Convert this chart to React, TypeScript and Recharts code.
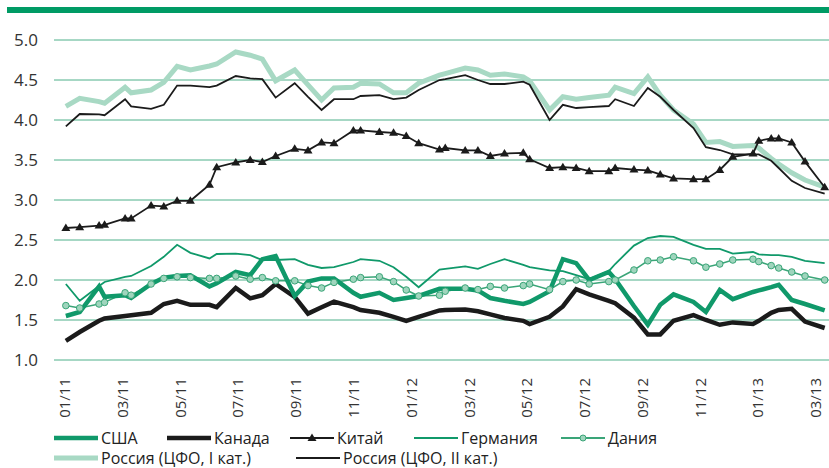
import React from "react";
import { CartesianGrid, Line, LineChart, XAxis, YAxis } from "recharts";

// observation dates, in months since 01/2011
const months = [
  0.03, 0.51, 1.18, 1.37, 2.08, 2.29, 2.98, 3.42, 3.88, 4.34,
  5.0, 5.25, 5.91, 6.41, 6.83, 7.29, 7.95, 8.41, 8.88, 9.31,
  9.98, 10.23, 10.88, 11.37, 11.81, 12.24, 12.96, 13.16, 13.85, 14.29,
  14.72, 15.21, 15.86, 16.08, 16.77, 17.23, 17.69, 18.14, 18.82, 19.04,
  19.69, 20.17, 20.6, 21.06, 21.75, 22.18, 22.66, 23.11, 23.81, 24.01,
  24.44, 24.7, 25.15, 25.61, 26.29,
];

const usa = [
  1.55, 1.6, 1.92, 1.79, 1.81, 1.775, 1.95, 2.03, 2.05, 2.06,
  1.92, 1.96, 2.1, 2.06, 2.26, 2.3, 1.8, 1.98, 2.02, 2.02,
  1.84, 1.79, 1.84, 1.75, 1.775, 1.8, 1.89, 1.89, 1.89, 1.87,
  1.775, 1.74, 1.7, 1.725, 1.86, 2.26, 2.21, 2.0, 2.1, 2.01,
  1.675, 1.44, 1.69, 1.82, 1.725, 1.6, 1.875, 1.76, 1.85, 1.87,
  1.91, 1.94, 1.75, 1.7, 1.62,
];

const canada = [
  1.24, 1.35, 1.49, 1.52, 1.55, 1.56, 1.59, 1.7, 1.74, 1.69,
  1.69, 1.66, 1.9, 1.77, 1.81, 1.95, 1.79, 1.58, 1.66, 1.73,
  1.66, 1.625, 1.59, 1.54, 1.49, 1.54, 1.62, 1.625, 1.63, 1.61,
  1.57, 1.525, 1.49, 1.45, 1.54, 1.67, 1.885, 1.82, 1.74, 1.71,
  1.53, 1.32, 1.32, 1.49, 1.56, 1.5, 1.44, 1.47, 1.45, 1.49,
  1.59, 1.625, 1.64, 1.48, 1.4,
];

const china = [
  2.65, 2.66, 2.68, 2.69, 2.77, 2.77, 2.93, 2.92, 2.99, 2.99,
  3.19, 3.41, 3.47, 3.5, 3.475, 3.55, 3.64, 3.62, 3.72, 3.71,
  3.87, 3.87, 3.85, 3.84, 3.8, 3.71, 3.63, 3.65, 3.62, 3.62,
  3.55, 3.58, 3.59, 3.51, 3.4, 3.41, 3.4, 3.36, 3.36, 3.4,
  3.38, 3.37, 3.32, 3.27, 3.26, 3.26, 3.375, 3.54, 3.58, 3.74,
  3.77, 3.77, 3.72, 3.48, 3.16,
];

const germany = [
  1.95, 1.74, 1.925, 1.975, 2.04, 2.05, 2.175, 2.29, 2.44, 2.34,
  2.27, 2.325, 2.33, 2.31, 2.25, 2.25, 2.26, 2.19, 2.15, 2.16,
  2.225, 2.26, 2.24, 2.16, 2.04, 1.91, 2.13, 2.14, 2.17, 2.14,
  2.2, 2.26, 2.19, 2.16, 2.12, 2.11, 2.06, 2.01, 2.11, 2.2,
  2.43, 2.525, 2.55, 2.54, 2.44, 2.39, 2.39, 2.33, 2.35, 2.32,
  2.31, 2.31, 2.29, 2.24, 2.21,
];

const denmark = [
  1.68, 1.65, 1.7, 1.72, 1.84, 1.81, 1.95, 2.02, 2.04, 2.03,
  2.02, 2.02, 2.05, 2.01, 2.03, 1.99, 1.99, 1.93, 1.9, 1.97,
  2.01, 2.03, 2.04, 1.98, 1.875, 1.8, 1.81, 1.86, 1.9, 1.88,
  1.92, 1.9, 1.93, 1.95, 1.88, 1.98, 2.0, 1.95, 1.98, 2.0,
  2.125, 2.24, 2.25, 2.29, 2.24, 2.16, 2.2, 2.25, 2.26, 2.23,
  2.18, 2.15, 2.1, 2.05, 2.0,
];

const russia1 = [
  4.17, 4.27, 4.23, 4.21, 4.41, 4.34, 4.375, 4.47, 4.67, 4.625,
  4.675, 4.7, 4.85, 4.81, 4.76, 4.49, 4.625, 4.44, 4.25, 4.4,
  4.41, 4.46, 4.45, 4.34, 4.34, 4.46, 4.56, 4.58, 4.65, 4.625,
  4.56, 4.575, 4.54, 4.49, 4.125, 4.29, 4.26, 4.28, 4.31, 4.41,
  4.33, 4.54, 4.31, 4.125, 3.95, 3.72, 3.73, 3.67, 3.68, 3.65,
  3.52, 3.45, 3.34, 3.25, 3.16,
];

const russia2 = [
  3.92, 4.075, 4.07, 4.06, 4.26, 4.17, 4.14, 4.19, 4.43, 4.43,
  4.41, 4.43, 4.55, 4.52, 4.51, 4.28, 4.46, 4.29, 4.125, 4.26,
  4.26, 4.3, 4.31, 4.26, 4.28, 4.375, 4.5, 4.51, 4.56, 4.5,
  4.45, 4.45, 4.48, 4.44, 4.0, 4.19, 4.15, 4.16, 4.175, 4.26,
  4.175, 4.4, 4.29, 4.125, 3.9, 3.66, 3.625, 3.57, 3.57, 3.57,
  3.49, 3.4, 3.24, 3.15, 3.08,
];

const xTicks = [0, 2, 4, 6, 8, 10, 12, 14, 16, 18, 20, 22, 24, 26];
const xLabels = [
  "01/11", "03/11", "05/11", "07/11", "09/11", "11/11", "01/12",
  "03/12", "05/12", "07/12", "09/12", "11/12", "01/13", "03/13",
];
const yTicks = [1, 1.5, 2, 2.5, 3, 3.5, 4, 4.5, 5];

const data = months.map((m, i) => ({
  m,
  usa: usa[i],
  canada: canada[i],
  china: china[i],
  germany: germany[i],
  denmark: denmark[i],
  russia1: russia1[i],
  russia2: russia2[i],
}));

const GREEN = "#10996a";
const LIGHT = "#a8d9c4";
const BLACK = "#1b1b1b";
const FONT = "'Open Sans', 'Noto Sans', sans-serif";

function XTick(props: any) {
  const { x, y, payload } = props;
  const idx = xTicks.indexOf(payload.value);
  return (
    <text
      transform={`translate(${x + 5},${y + 10}) rotate(-90)`}
      textAnchor="end"
      fontSize={15}
      fill="#333"
      fontFamily={FONT}
    >
      {xLabels[idx]}
    </text>
  );
}

function YTick(props: any) {
  const { y, payload } = props;
  return (
    <text x={38} y={y} dy="0.36em" textAnchor="end" fontSize={17} fill="#333" fontFamily={FONT}>
      {payload.value.toFixed(1)}
    </text>
  );
}

function Triangle(props: any) {
  const { cx, cy } = props;
  if (cx == null || cy == null) return null;
  return <path d={`M${cx},${cy - 4.5} L${cx + 4.5},${cy + 3} L${cx - 4.5},${cy + 3} Z`} fill={BLACK} />;
}

function Circle(props: any) {
  const { cx, cy } = props;
  if (cx == null || cy == null) return null;
  return <circle cx={cx} cy={cy} r={3.3} fill="#9fd5bd" stroke="#3aa578" strokeWidth={1} />;
}

function Swatch({ color, width, marker }: { color: string; width: number; marker?: "tri" | "dot" }) {
  return (
    <svg width={44} height={12} style={{ display: "block" }}>
      <line x1={0} x2={44} y1={6} y2={6} stroke={color} strokeWidth={width} />
      {marker === "tri" && <path d="M22,1.5 L26.5,9 L17.5,9 Z" fill={BLACK} />}
      {marker === "dot" && <circle cx={22} cy={6} r={3} fill="#9fd5bd" stroke="#3aa578" strokeWidth={1} />}
    </svg>
  );
}

const legendItems = [
  { label: "США", x: 54, y: 438, color: GREEN, width: 4.5 },
  { label: "Канада", x: 167, y: 438, color: BLACK, width: 4.5 },
  { label: "Китай", x: 290, y: 438, color: BLACK, width: 1.8, marker: "tri" as const },
  { label: "Германия", x: 414, y: 438, color: GREEN, width: 1.8 },
  { label: "Дания", x: 561, y: 438, color: "#3aa578", width: 1.8, marker: "dot" as const },
  { label: "Россия (ЦФО, I кат.)", x: 54, y: 458, color: LIGHT, width: 5 },
  { label: "Россия (ЦФО, II кат.)", x: 296, y: 458, color: BLACK, width: 1.8 },
];

export default function App() {
  return (
    <div style={{ position: "relative", width: 829, height: 468, background: "#fff", fontFamily: FONT, overflow: "hidden" }}>
      <style>{"body{margin:0}"}</style>
      <div style={{ position: "absolute", left: 7, top: 7, width: 822, height: 6, background: "#009b65" }} />
      <div style={{ position: "absolute", left: 0, top: 0 }}>
        <LineChart width={829} height={420} data={data} margin={{ top: 40, right: 0, left: 0, bottom: 0 }}>
          <CartesianGrid horizontal vertical={false} stroke="#4fb08a" strokeWidth={1} />
          <XAxis
            dataKey="m"
            type="number"
            domain={[-0.38, 26.44]}
            ticks={xTicks}
            tick={<XTick />}
            axisLine={false}
            tickLine={false}
            height={60}
            allowDataOverflow
          />
          <YAxis
            domain={[1, 5]}
            ticks={yTicks}
            tick={<YTick />}
            axisLine={false}
            tickLine={false}
            width={54}
            allowDataOverflow
          />
          <Line dataKey="russia1" stroke={LIGHT} strokeWidth={5} dot={false} isAnimationActive={false} />
          <Line dataKey="russia2" stroke={BLACK} strokeWidth={1.8} dot={false} isAnimationActive={false} />
          <Line dataKey="germany" stroke={GREEN} strokeWidth={1.8} dot={false} isAnimationActive={false} />
          <Line dataKey="denmark" stroke="#3aa578" strokeWidth={1.5} dot={<Circle />} isAnimationActive={false} />
          <Line dataKey="canada" stroke={BLACK} strokeWidth={4.5} dot={false} isAnimationActive={false} />
          <Line dataKey="usa" stroke={GREEN} strokeWidth={4.5} dot={false} isAnimationActive={false} />
          <Line dataKey="china" stroke={BLACK} strokeWidth={1.8} dot={<Triangle />} isAnimationActive={false} />
        </LineChart>
      </div>
      {legendItems.map((it) => (
        <div
          key={it.label}
          style={{
            position: "absolute",
            left: it.x,
            top: it.y - 9,
            height: 18,
            lineHeight: "18px",
            display: "flex",
            alignItems: "center",
            gap: 3,
            fontSize: 16,
            color: "#222",
            whiteSpace: "nowrap",
          }}
        >
          <Swatch color={it.color} width={it.width} marker={it.marker} />
          <span>{it.label}</span>
        </div>
      ))}
    </div>
  );
}
